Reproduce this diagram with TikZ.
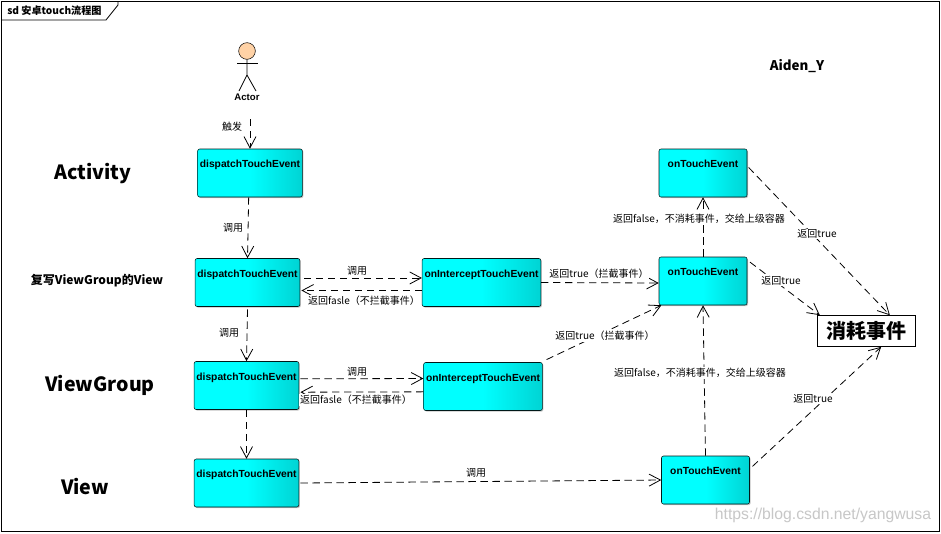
\documentclass[tikz,border=0pt]{standalone}
\usepackage{fontspec}
\setmainfont{Noto Sans CJK SC}
\newfontfamily\boxfont{Liberation Sans}
\usetikzlibrary{arrows.meta,shadows}
\tikzset{
  flowbox/.style={draw=black!80!teal, rounded corners=1.5pt, left color=cyan, right color=cyan!83!black,
    middle color=cyan, drop shadow={shadow xshift=0.8pt, shadow yshift=-0.8pt, opacity=0.45},
    inner sep=0pt, text height=14pt, text depth=22pt, font=\boxfont\bfseries\fontsize{7.7}{9}\selectfont},
  msg/.style={draw=black, dash pattern=on 5.5pt off 3.5pt, line width=0.6pt,
    -{Straight Barb[length=8.5pt,width=9pt,line width=0.6pt]}},
  tag/.style={fill=white, inner sep=0.6pt, font=\fontsize{7.5}{9}\selectfont},
  layer/.style={inner sep=0pt, font=\bfseries\fontsize{14.7}{18}\selectfont},
}
\begin{document}
\begin{tikzpicture}[x=0.75pt, y=-0.75pt]
    \useasboundingbox (0,0) rectangle (941,533);
    % frame
    \fill[white] (0,0) rectangle (941,533);
    \draw[line width=0.8pt] (1.5,1.5) rectangle (939.5,531.5);
    \coordinate (tabA) at (1.5,20);
    \coordinate (tabB) at (106,20);
    \coordinate (tabC) at (118,5);
    \coordinate (tabD) at (118,1.5);
    \draw[line width=0.6pt] (tabA) -- (tabB) -- (tabC) -- (tabD);
    \node[anchor=west, inner sep=0pt, font=\bfseries\fontsize{7.6}{9}\selectfont] (title) at (7,10.5) {sd 安卓touch流程图};

    % actor
    \node[circle, draw, fill=orange!35!white, minimum size=12.5pt, inner sep=0pt] (head) at (247,51) {};
    \coordinate (hip) at (247,75);
    \coordinate (armL) at (237,63);
    \coordinate (armR) at (258,63);
    \coordinate (legL) at (239,91);
    \coordinate (legR) at (256,91);
    \draw[line width=0.6pt] (head.south) -- (hip) -- (legL);
    \draw[line width=0.6pt] (hip) -- (legR);
    \draw[line width=0.6pt] (armL) -- (armR);
    \node[inner sep=0pt, font=\boxfont\bfseries\fontsize{7.2}{9}\selectfont] (actor) at (247,97) {Actor};
    \coordinate (start) at (250,119);

    % layer names
    \node[layer] (activity) at (93,173) {Activity};
    \node[inner sep=0pt, font=\bfseries\fontsize{9}{11}\selectfont] (rewrite) at (97,281) {复写ViewGroup的View};
    \node[layer] (viewgroup) at (100,385) {ViewGroup};
    \node[layer] (view) at (85,486) {View};
    \node[inner sep=0pt, font=\bfseries\fontsize{10}{12}\selectfont] (aiden) at (797,66) {Aiden\_Y};

    % boxes
    \node[flowbox, minimum width=78.5pt] (dispA) at (250,173) {dispatchTouchEvent};
    \node[flowbox, minimum width=78.5pt] (dispB) at (247.5,282.5) {dispatchTouchEvent};
    \node[flowbox, minimum width=78.5pt] (dispC) at (246.5,385.5) {dispatchTouchEvent};
    \node[flowbox, minimum width=78.5pt] (dispD) at (246.5,483) {dispatchTouchEvent};
    \node[flowbox, minimum width=89pt] (interB) at (481.5,282.5) {onInterceptTouchEvent};
    \node[flowbox, minimum width=89pt] (interC) at (483,386.5) {onInterceptTouchEvent};
    \node[flowbox, minimum width=66pt] (touchA) at (703,173) {onTouchEvent};
    \node[flowbox, minimum width=66pt] (touchB) at (703,281) {onTouchEvent};
    \node[flowbox, minimum width=66pt] (touchD) at (705.5,480) {onTouchEvent};
    \node[draw, fill=white, line width=0.7pt, minimum width=74pt, minimum height=23pt, inner sep=0pt,
      font=\bfseries\fontsize{15}{18}\selectfont] (consume) at (866.5,331) {消耗事件};

    % connectors
    \draw[msg] (start) -- (dispA.north);
    \draw[msg] ([xshift=-1pt]dispA.south) -- (dispB.north);
    \draw[msg] ([yshift=-2pt]dispB.south) -- (dispC.north);
    \draw[msg] (dispC.south) -- (dispD.north);
    \draw[msg] ([xshift=1pt]dispD.east) -- (touchD.west);
    \draw[msg] ([xshift=3pt,yshift=3.4pt]dispB.east) -- ([yshift=3.4pt]interB.west);
    \draw[msg] ([yshift=-6pt]interB.west) -- ([xshift=1pt,yshift=-6pt]dispB.east);
    \draw[msg] ([xshift=1pt,yshift=5pt]dispC.east) -- ([yshift=6pt]interC.west);
    \draw[msg] ([yshift=-4pt]interC.west) -- ([xshift=1pt,yshift=-5pt]dispC.east);
    \draw[msg] (interB.east) -- ([yshift=-1.5pt]touchB.west);
    \draw[msg] ([xshift=3pt,yshift=2pt]interC.north east) -- ([xshift=2pt]touchB.south west);
    \draw[msg] (touchB.north) -- (touchA.south);
    \draw[msg] (touchD.north) -- (touchB.south);
    \draw[msg] ([xshift=1pt,yshift=-14pt]touchA.north east) -- ([xshift=17.5pt]consume.north);
    \draw[msg] ([xshift=2pt,yshift=-4pt]touchB.north east) -- ([xshift=-35pt]consume.north);
    \draw[msg] ([xshift=2pt,yshift=-8pt]touchD.north east) -- ([xshift=11pt]consume.south);

    % labels
    \node[tag] (lbTrigger) at (232,127) {触发};
    \node[tag] (lbCallA) at (233,228) {调用};
    \node[tag] (lbCallB) at (229,333) {调用};
    \node[tag] (lbCallC) at (357,271) {调用};
    \node[tag] (lbCallD) at (357,372) {调用};
    \node[tag] (lbCallE) at (476,473) {调用};
    \node[tag] (lbFalseB) at (364,301) {返回fasle^^^^ff08不拦截事件^^^^ff09};
    \node[tag] (lbFalseC) at (356,400) {返回fasle^^^^ff08不拦截事件^^^^ff09};
    \node[tag] (lbTrueB) at (599,274) {返回true^^^^ff08拦截事件^^^^ff09};
    \node[tag] (lbTrueC) at (605,336) {返回true^^^^ff08拦截事件^^^^ff09};
    \node[tag] (lbUpA) at (699,219) {返回false^^^^ff0c不消耗事件^^^^ff0c交给上级容器};
    \node[tag] (lbUpB) at (700,373) {返回false^^^^ff0c不消耗事件^^^^ff0c交给上级容器};
    \node[tag] (lbEatA) at (817,234) {返回true};
    \node[tag] (lbEatB) at (781,281) {返回true};
    \node[tag] (lbEatC) at (813,399) {返回true};

    % watermark
    \node[inner sep=0pt, text=black!22, font=\boxfont\fontsize{11.8}{14}\selectfont] (mark) at (823,515) {https://blog.csdn.net/yangwusa};
  \end{tikzpicture}
\end{document}
